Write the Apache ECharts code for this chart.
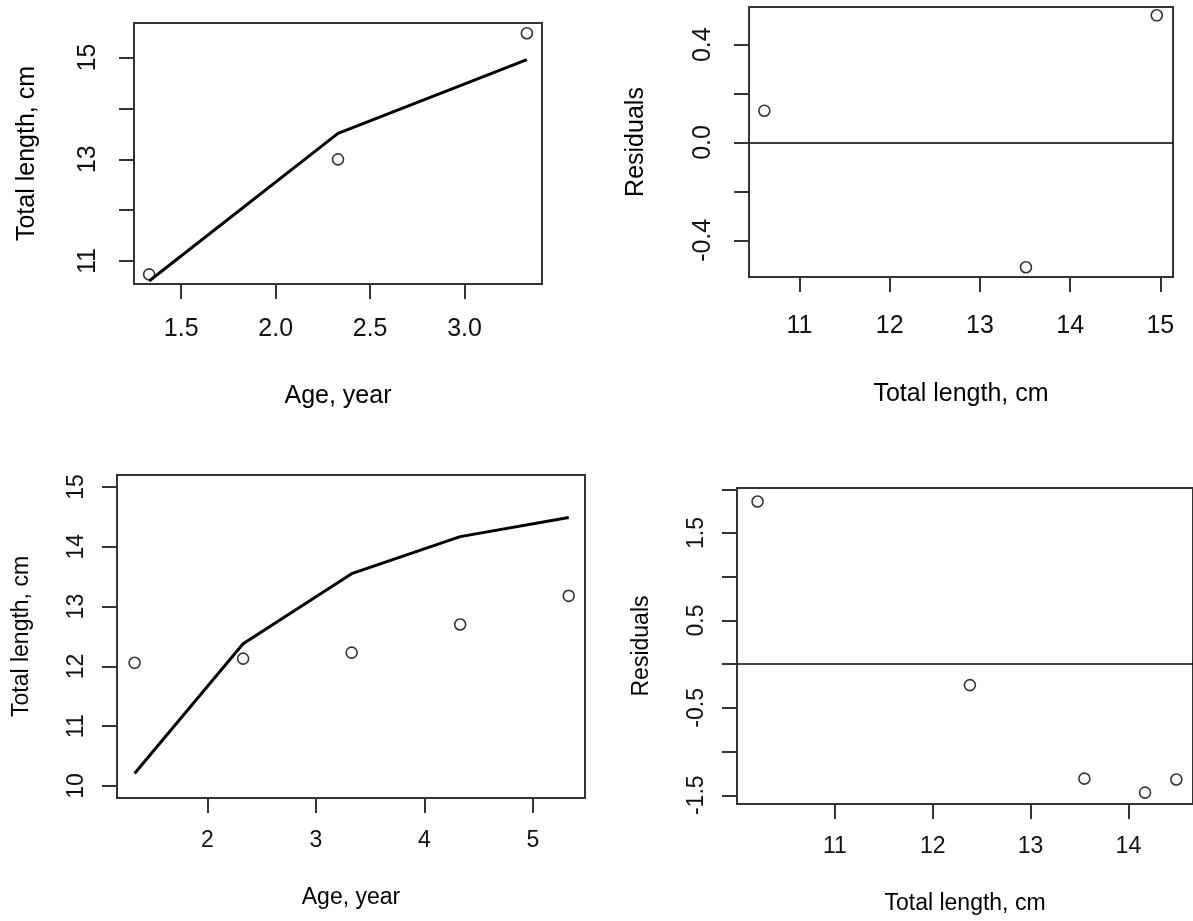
<!DOCTYPE html>
<html>
<head>
<meta charset="utf-8">
<title>Growth fit and residuals</title>
<script src="https://cdn.jsdelivr.net/npm/echarts@6/dist/echarts.min.js"></script>
</head>
<body style="margin:0;background:#fff">
<div id="chart" style="width:1193px;height:921px"></div>
<script>
// model with 3 age groups (top row)
var ageA = [1.33, 2.33, 3.33];
var obsA = [10.74, 13.00, 15.48];
var fitA = [10.61, 13.51, 14.96];
var resA = [0.13, -0.51, 0.52];

// model with 5 age groups (bottom row)
var ageB = [1.33, 2.33, 3.33, 4.33, 5.33];
var obsB = [12.06, 12.13, 12.23, 12.70, 13.18];
var fitB = [10.21, 12.38, 13.55, 14.17, 14.49];
var resB = [1.86, -0.24, -1.31, -1.47, -1.32];

// ticks, and the ticks that carry a label
var ticksX1 = [1.5, 2.0, 2.5, 3.0];
var ticksY1 = [11, 12, 13, 14, 15];
var labelsY1 = [11, 13, 15];
var ticksX2 = [11, 12, 13, 14, 15];
var ticksY2 = [-0.4, -0.2, 0, 0.2, 0.4];
var labelsY2 = [-0.4, 0, 0.4];
var ticksX3 = [2, 3, 4, 5];
var ticksY3 = [10, 11, 12, 13, 14, 15];
var ticksX4 = [11, 12, 13, 14];
var ticksY4 = [-1.5, -1, -0.5, 0, 0.5, 1, 1.5, 2];
var labelsY4 = [-1.5, -0.5, 0.5, 1.5];

var FONT = '"Liberation Sans", Arial, sans-serif';
var INK = '#000';

function pairs(xs, ys) {
  return xs.map(function (x, i) { return [x, ys[i]]; });
}
function fixed1(v) { return (+v).toFixed(1); }

function axis(kind, gi, o) {
  var a = {
    type: 'value',
    gridIndex: gi,
    min: o.min,
    max: o.max,
    name: o.name,
    nameLocation: 'middle',
    nameGap: o.gap,
    nameTextStyle: { fontFamily: FONT, fontSize: o.fs, color: INK },
    splitLine: { show: false },
    axisLine: { show: false, onZero: false },
    axisTick: {
      show: true, length: 15, customValues: o.ticks,
      lineStyle: { color: '#333', width: 2 }
    },
    axisLabel: {
      customValues: o.labels || o.ticks,
      fontFamily: FONT, fontSize: o.fs, color: '#111',
      margin: o.margin,
      formatter: o.fmt || function (v) { return String(+v.toFixed(2)); }
    }
  };
  if (kind === 'y') a.axisLabel.rotate = 90;
  return a;
}

function fitLine(gi, data) {
  return {
    type: 'line', xAxisIndex: gi, yAxisIndex: gi, data: data,
    showSymbol: false, silent: true,
    lineStyle: { color: INK, width: 3 }
  };
}
function points(gi, data, zero) {
  var s = {
    type: 'scatter', xAxisIndex: gi, yAxisIndex: gi, data: data,
    symbol: 'circle', symbolSize: 11, silent: true,
    itemStyle: { color: 'rgba(0,0,0,0)', borderColor: INK, borderWidth: 1.6 }
  };
  if (zero) {
    s.markLine = {
      silent: true, symbol: ['none', 'none'], label: { show: false },
      lineStyle: { color: INK, width: 1.6, type: 'solid' },
      data: [{ yAxis: 0 }]
    };
  }
  return s;
}

var box = { show: true, borderColor: '#333', borderWidth: 2, backgroundColor: 'transparent' };

var option = {
  backgroundColor: '#fff',
  animation: false,
  grid: [
    Object.assign({ left: 134, top: 23, width: 408, height: 261 }, box),
    Object.assign({ left: 749, top: 7, width: 424, height: 270 }, box),
    Object.assign({ left: 117, top: 475, width: 468, height: 323 }, box),
    Object.assign({ left: 737, top: 488, width: 461, height: 316 }, box)
  ],
  xAxis: [
    axis('x', 0, { min: 1.25, max: 3.41, ticks: ticksX1, fs: 25, margin: 33,
      name: 'Age, year', gap: 100, fmt: fixed1 }),
    axis('x', 1, { min: 10.44, max: 15.14, ticks: ticksX2, fs: 25, margin: 37,
      name: 'Total length, cm', gap: 105 }),
    axis('x', 2, { min: 1.168, max: 5.48, ticks: ticksX3, fs: 23, margin: 31,
      name: 'Age, year', gap: 88 }),
    axis('x', 3, { min: 10.0, max: 14.66, ticks: ticksX4, fs: 23, margin: 31,
      name: 'Total length, cm', gap: 88 })
  ],
  yAxis: [
    axis('y', 0, { min: 10.55, max: 15.68, ticks: ticksY1, labels: labelsY1, fs: 25, margin: 33,
      name: 'Total length, cm', gap: 94 }),
    axis('y', 1, { min: -0.55, max: 0.554, ticks: ticksY2, labels: labelsY2, fs: 25, margin: 33,
      name: 'Residuals', gap: 100, fmt: fixed1 }),
    axis('y', 2, { min: 9.8, max: 15.2, ticks: ticksY3, fs: 23, margin: 29,
      name: 'Total length, cm', gap: 84 }),
    axis('y', 3, { min: -1.6, max: 2.015, ticks: ticksY4, labels: labelsY4, fs: 23, margin: 29,
      name: 'Residuals', gap: 84, fmt: fixed1 })
  ],
  series: [
    points(0, pairs(ageA, obsA)),
    fitLine(0, pairs(ageA, fitA)),
    points(1, pairs(fitA, resA), true),
    points(2, pairs(ageB, obsB)),
    fitLine(2, pairs(ageB, fitB)),
    points(3, pairs(fitB, resB), true)
  ]
};

var myChart = echarts.init(document.getElementById('chart'), null, { renderer: 'canvas' });
myChart.setOption(option);
</script>
</body>
</html>
